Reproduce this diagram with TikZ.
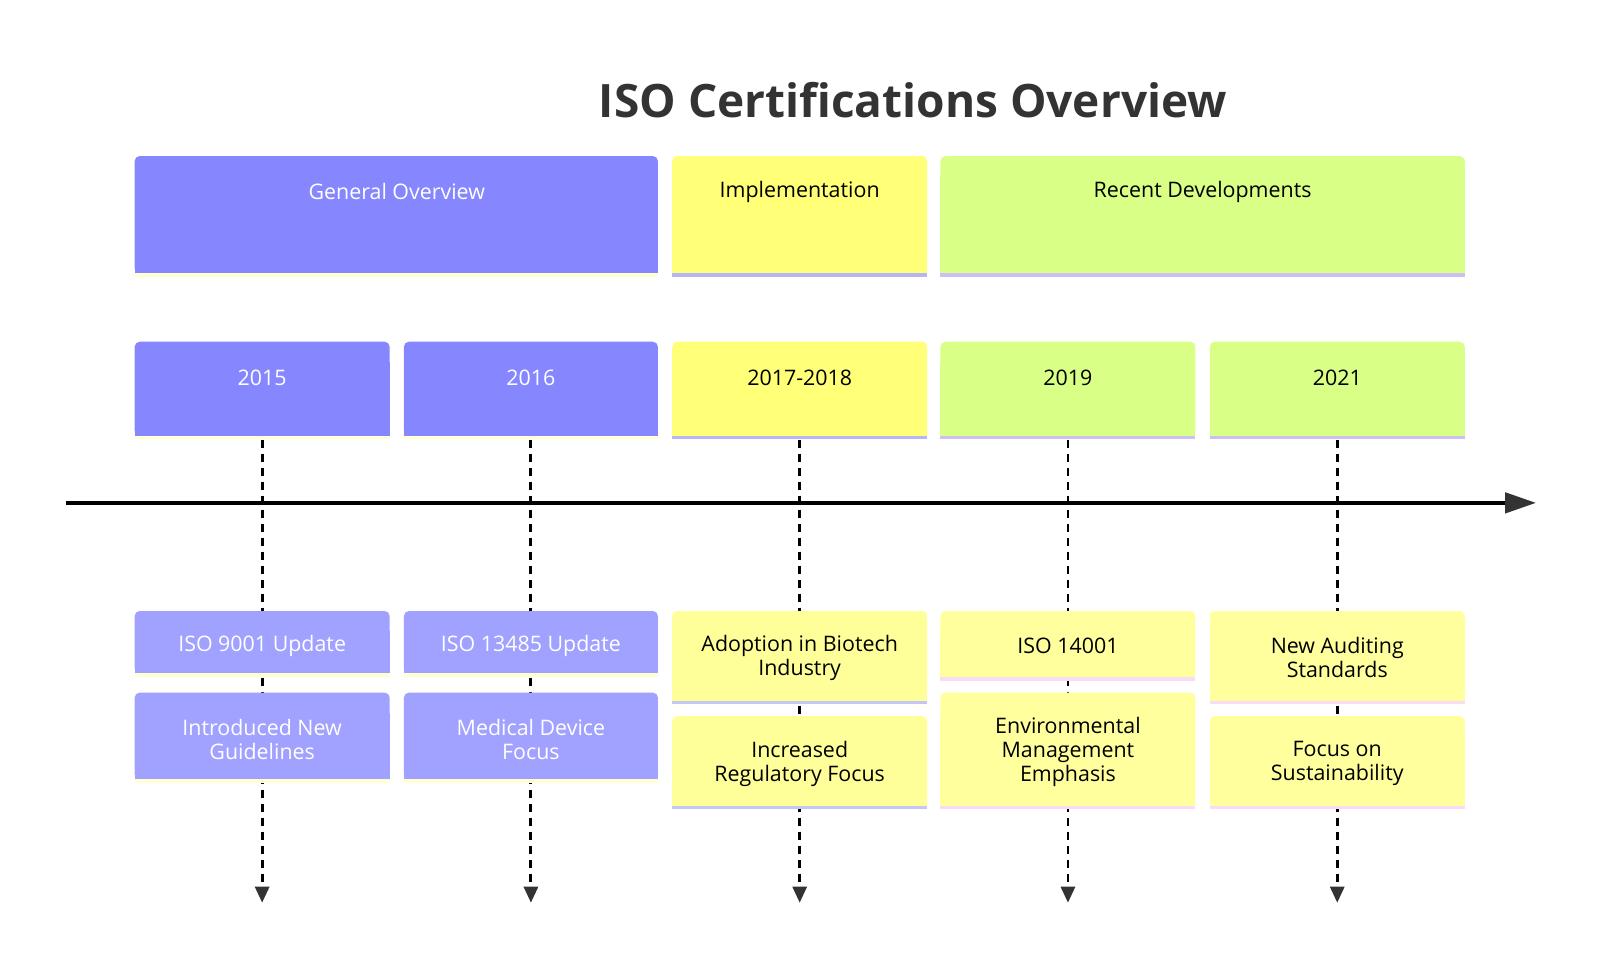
\documentclass[tikz,border=0pt]{standalone}
\usepackage{fontspec}
\setmainfont{Open Sans}
\usetikzlibrary{arrows.meta}
\pgfdeclarelayer{bg}
\pgfsetlayers{bg,main}
\definecolor{secA}{HTML}{8686FF}
\definecolor{evA}{HTML}{A1A1FF}
\definecolor{strA}{HTML}{FFFFD2}
\definecolor{secB}{HTML}{FFFF78}
\definecolor{evB}{HTML}{FFFF9A}
\definecolor{strB}{HTML}{B6B6F4}
\definecolor{strBe}{HTML}{C6C6F6}
\definecolor{secC}{HTML}{D9FF87}
\definecolor{strC}{HTML}{CDBEF5}
\definecolor{evC}{HTML}{FFFF9E}
\definecolor{strCe}{HTML}{F8DCF6}
\definecolor{ink}{HTML}{333333}
\newcommand\tlbox[7]{%
  \path[fill=#6, rounded corners=2.5pt] (#2,#3) rectangle (#4,#5);
  \path[fill=#6] (#2,#3+20) rectangle (#4,#5);
  \path[fill=#7] (#2,#5) rectangle (#4,#5+3.5);
  \node[inner sep=0pt, minimum width={(#4-#2)*0.51pt}, minimum height={(#5+3.5-#3)*0.51pt}] (#1) at ({(#2+#4)/2},{(#3+#5+3.5)/2}) {};%
}
\begin{document}
\begin{tikzpicture}[x=0.51pt,y=-0.51pt,
  lbl/.style={font=\fontsize{10.7pt}{12pt}\selectfont, align=center, inner sep=0pt},
  ttl/.style={font=\fontsize{23pt}{28pt}\selectfont\bfseries, text=ink, inner sep=0pt},
  dashconn/.style={draw=black, line width=1.45pt, dash pattern=on 4pt off 3pt, -{Triangle[length=8pt,width=7pt,color=ink]}},
  axis/.style={draw=black, line width=2.2pt, -{Triangle[length=15.5pt,width=10pt,color=ink]}}]
\useasboundingbox (0,0) rectangle (1568.6,949.1);
\node[ttl] (title) at (895,98) {ISO Certifications Overview};
% sections
\tlbox{s1}{132}{153}{645}{268}{secA}{strA}
\tlbox{s2}{659}{153}{909}{268}{secB}{strB}
\tlbox{s3}{922}{153}{1436}{268}{secC}{strC}
\node[lbl, text=white] (ts1) at (389,188) {General Overview};
\node[lbl] (ts2) at (784,188) {Implementation};
\node[lbl] (ts3) at (1179,188) {Recent Developments};
% years
\tlbox{y1}{132}{335}{382}{427}{secA}{strA}
\tlbox{y2}{396}{335}{645}{427}{secA}{strA}
\tlbox{y3}{659}{335}{909}{427}{secB}{strB}
\tlbox{y4}{922}{335}{1172}{427}{secC}{strC}
\tlbox{y5}{1186}{335}{1436}{427}{secC}{strC}
\node[lbl, text=white] (ty1) at (257,370) {2015};
\node[lbl, text=white] (ty2) at (520.5,370) {2016};
\node[lbl] (ty3) at (784,370) {2017-2018};
\node[lbl] (ty4) at (1047,370) {2019};
\node[lbl] (ty5) at (1311,370) {2021};
% events
\tlbox{e1a}{132}{599}{382}{660}{evA}{strA}
\tlbox{e1b}{132}{679}{382}{764}{evA}{strA}
\tlbox{e2a}{396}{599}{645}{660}{evA}{strA}
\tlbox{e2b}{396}{679}{645}{764}{evA}{strA}
\tlbox{e3a}{659}{599}{909}{687}{evB}{strBe}
\tlbox{e3b}{659}{702}{909}{790}{evB}{strBe}
\tlbox{e4a}{922}{599}{1172}{664}{evC}{strCe}
\tlbox{e4b}{922}{679}{1172}{790}{evC}{strCe}
\tlbox{e5a}{1186}{599}{1436}{687}{evC}{strCe}
\tlbox{e5b}{1186}{702}{1436}{790}{evC}{strCe}
\node[lbl, text=white] (te1a) at (257,633) {ISO 9001 Update};
\node[lbl, text=white] (te1b) at (257,725) {Introduced New\\Guidelines};
\node[lbl, text=white] (te2a) at (520.5,633) {ISO 13485 Update};
\node[lbl, text=white] (te2b) at (520.5,725) {Medical Device\\Focus};
\node[lbl] (te3a) at (784,645) {Adoption in Biotech\\Industry};
\node[lbl] (te3b) at (784,748.5) {Increased\\Regulatory Focus};
\node[lbl] (te4a) at (1047,633) {ISO 14001};
\node[lbl] (te4b) at (1047,737) {Environmental\\Management\\Emphasis};
\node[lbl] (te5a) at (1311,645) {New Auditing\\Standards};
\node[lbl] (te5b) at (1311,748.5) {Focus on\\Sustainability};
% connector ends
\coordinate (d1) at (257,885);
\coordinate (d2) at (520.5,885);
\coordinate (d3) at (784,885);
\coordinate (d4) at (1047,885);
\coordinate (d5) at (1311,885);
\coordinate (axL) at (65,493);
\coordinate (axR) at (1506,493);
\begin{pgfonlayer}{bg}
\foreach \i in {1,...,5} {\draw[dashconn] (y\i.south) -- (d\i);}
\end{pgfonlayer}
\draw[axis] (axL) -- (axR);
\end{tikzpicture}
\end{document}
